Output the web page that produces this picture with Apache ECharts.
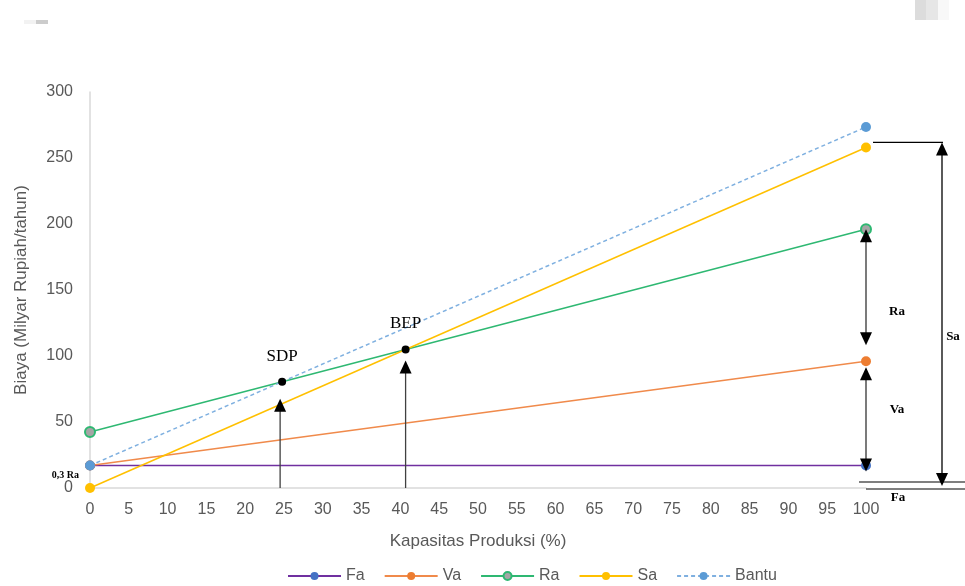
<!DOCTYPE html>
<html>
<head>
<meta charset="utf-8">
<script src="https://cdn.jsdelivr.net/npm/echarts@6/dist/echarts.min.js"></script>
<style>
  html, body { margin: 0; padding: 0; background: #ffffff; }
  #main { width: 965px; height: 586px; }
</style>
</head>
<body>
<div id="main"></div>
<script>
// Capacity (%) at the two ends of each cost line
const capacity = [0, 100];
// Costs in billion rupiah per year
const fa = [17, 17];        // fixed cost
const va = [17, 96];        // variable cost
const ra = [42.5, 196];     // total cost
const sa = [0, 258];        // sales
const bantu = [17, 273.5];  // helper line

const xInterval = 5;
const yInterval = 50;

const pairs = (ys) => capacity.map((x, i) => [x, ys[i]]);
const lineAt = (ys, x) => ys[0] + (ys[1] - ys[0]) * (x - capacity[0]) / (capacity[1] - capacity[0]);
// x where two straight lines meet
function cross(a, b) {
  const span = capacity[1] - capacity[0];
  const sa_ = (a[1] - a[0]) / span, sb_ = (b[1] - b[0]) / span;
  const x = capacity[0] + (b[0] - a[0]) / (sa_ - sb_);
  return [x, lineAt(a, x)];
}
const sdp = cross(bantu, ra);
const bep = cross(sa, ra);

const grey = '#595959';
const serif = "'Liberation Serif', 'DejaVu Serif', serif";
const sans = "'Liberation Sans', Arial, sans-serif";

const chart = echarts.init(document.getElementById('main'));

function lineSeries(name, data, lineColor, markerColor, extra) {
  return Object.assign({
    name: name,
    type: 'line',
    data: pairs(data),
    symbol: 'circle',
    symbolSize: 10,
    lineStyle: { color: lineColor, width: 1.5 },
    itemStyle: { color: markerColor },
    emphasis: { disabled: true },
    animation: false
  }, extra || {});
}

chart.setOption({
  animation: false,
  grid: { left: 90, right: 99, top: 92, bottom: 98, containLabel: false },
  legend: {
    left: 282,
    top: 563,
    itemWidth: 53,
    itemHeight: 10,
    itemGap: 19,
    textStyle: { color: grey, fontSize: 16, fontFamily: sans },
    data: ['Fa', 'Va', 'Ra', 'Sa', 'Bantu']
  },
  xAxis: {
    type: 'value',
    min: 0, max: 100, interval: xInterval,
    name: 'Kapasitas Produksi (%)',
    nameLocation: 'middle',
    nameGap: 45,
    nameTextStyle: { color: grey, fontSize: 17, fontFamily: sans },
    axisLine: { show: true, lineStyle: { color: '#d9d9d9', width: 1.5 } },
    axisTick: { show: false },
    splitLine: { show: false },
    axisLabel: { color: grey, fontSize: 16, fontFamily: sans, margin: 14 }
  },
  yAxis: {
    type: 'value',
    min: 0, max: 300, interval: yInterval,
    name: 'Biaya (Milyar Rupiah/tahun)',
    nameLocation: 'middle',
    nameGap: 60,
    nameTextStyle: { color: grey, fontSize: 17, fontFamily: sans },
    axisLine: { show: true, lineStyle: { color: '#d9d9d9', width: 1.5 } },
    axisTick: { show: false },
    splitLine: { show: false },
    axisLabel: { color: grey, fontSize: 16, fontFamily: sans, margin: 17 }
  },
  series: [
    lineSeries('Fa', fa, '#7030a0', '#4472c4'),
    lineSeries('Va', va, '#ed7d31', '#ed7d31', { lineStyle: { color: '#f08a4b', width: 1.5 } }),
    lineSeries('Ra', ra, '#2eb872', '#a5a5a5', { itemStyle: { color: '#a5a5a5', borderColor: '#2eb872', borderWidth: 2 } }),
    lineSeries('Sa', sa, '#ffc000', '#ffc000'),
    lineSeries('Bantu', bantu, '#7fb0e0', '#5b9bd5', { lineStyle: { color: '#7fb0e0', width: 1.5, type: [4, 3] } }),
    {
      name: 'titik',
      type: 'scatter',
      data: [
        { name: 'SDP', value: sdp },
        { name: 'BEP', value: bep }
      ],
      symbolSize: 8,
      itemStyle: { color: '#000000', opacity: 1 },
      label: {
        show: true, position: 'top', distance: 13,
        formatter: '{b}', color: '#000000', fontSize: 17, fontFamily: serif
      },
      emphasis: { disabled: true },
      z: 5
    }
  ]
});

// Annotation arrows and labels, placed from the data through the axes
const P = (x, y) => chart.convertToPixel({ gridIndex: 0 }, [x, y]);
const ink = '#1a1a1a';
const g = [];

function line(pts, color, w) {
  g.push({ type: 'polyline', shape: { points: pts }, style: { stroke: color || ink, lineWidth: w || 1.3, fill: null }, z: 10 });
}
function head(x, y, up) {
  const d = up ? 1 : -1;
  g.push({
    type: 'polygon',
    shape: { points: [[x, y], [x - 6, y + d * 13], [x + 6, y + d * 13]] },
    style: { fill: '#000000' }, z: 11
  });
}
function vArrow(x, yTop, yBot, topHead, botHead, color) {
  line([[x, yTop + (topHead ? 6 : 0)], [x, yBot - (botHead ? 6 : 0)]], color);
  if (topHead) head(x, yTop, true);
  if (botHead) head(x, yBot, false);
}
function text(str, x, y, size, align) {
  g.push({
    type: 'text', x: x, y: y, z: 12,
    style: { text: str, fill: '#000000', font: 'bold ' + size + 'px ' + serif, align: align || 'center', verticalAlign: 'middle' }
  });
}

const base = P(0, 0);
// SDP and BEP arrows rising from the capacity axis
const sdpTip = P(sdp[0], lineAt(sa, sdp[0]));
vArrow(sdpTip[0] - 2, sdpTip[1] - 5, base[1], true, false, '#404040');
const bepDot = P(bep[0], bep[1]);
vArrow(bepDot[0], bepDot[1] + 11, base[1], true, false, '#404040');

// Brackets at full capacity
const endRa = P(100, ra[1]);
const endVa = P(100, va[1]);
const endFa = P(100, fa[1]);
const endSa = P(100, sa[1]);
const x100 = endRa[0];
vArrow(x100, endRa[1], endVa[1] - 16, true, true, '#333333');
vArrow(x100, endVa[1] + 6, endFa[1] + 6, true, true, '#333333');
text('Ra', x100 + 31, (endRa[1] + endVa[1]) / 2 + 16, 13);
text('Va', x100 + 31, (endVa[1] + endFa[1]) / 2 - 4, 13);

const xSa = x100 + 76;
line([[x100 + 7, endSa[1] - 5], [xSa + 1, endSa[1] - 5]], '#000000', 1.3);
vArrow(xSa, endSa[1] - 5, base[1] - 2, true, true, '#000000');
text('Sa', xSa + 11, (endSa[1] + base[1]) / 2 + 19, 13);
line([[x100 - 7, base[1] - 6], [965, base[1] - 6]], '#000000', 1.2);
line([[x100, base[1] + 1], [965, base[1] + 1]], '#000000', 1.2);
text('Fa', x100 + 32, base[1] + 10, 13);

// Label beside the axis at the fixed-cost level
const startFa = P(0, fa[0]);
text('0,3 Ra', startFa[0] - 11, startFa[1] + 10, 10, 'right');

// Faint marks along the top edge of the page
g.push({ type: 'rect', shape: { x: 24, y: 20, width: 12, height: 4 }, style: { fill: '#f2f2f2' } });
g.push({ type: 'rect', shape: { x: 36, y: 20, width: 12, height: 4 }, style: { fill: '#cccccc' } });
g.push({ type: 'rect', shape: { x: 915, y: 0, width: 11, height: 20 }, style: { fill: '#dcdcdc' } });
g.push({ type: 'rect', shape: { x: 926, y: 0, width: 12, height: 20 }, style: { fill: '#e6e6e6' } });
g.push({ type: 'rect', shape: { x: 938, y: 0, width: 11, height: 20 }, style: { fill: '#f8f8f8' } });

chart.setOption({ graphic: g });
</script>
</body>
</html>
